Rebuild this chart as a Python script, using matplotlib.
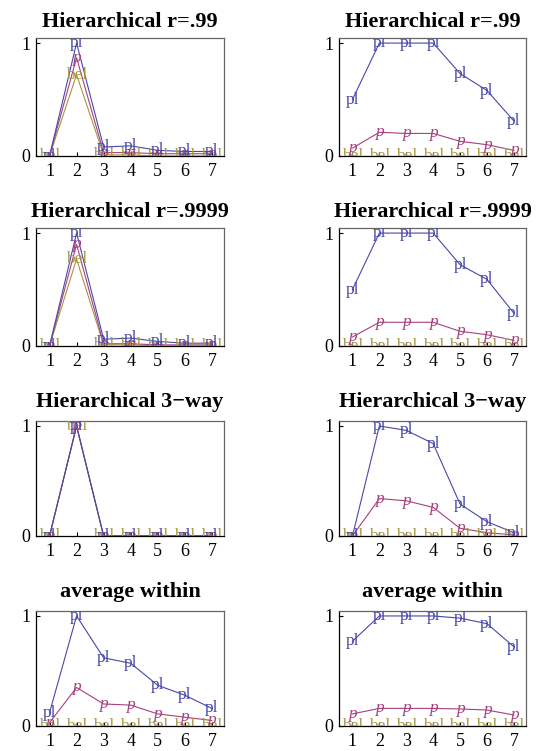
import numpy as np
import matplotlib.pyplot as plt

plt.rcParams['font.family'] = ['Liberation Serif', 'DejaVu Serif']

x = [1, 2, 3, 4, 5, 6, 7]

titles = ['Hierarchical r=.99', 'Hierarchical r=.99',
          'Hierarchical r=.9999', 'Hierarchical r=.9999',
          'Hierarchical 3\u2212way', 'Hierarchical 3\u2212way',
          'average within', 'average within']

pl = [
    [0.0, 1.0, 0.08, 0.09, 0.05, 0.04, 0.04],
    [0.5, 1.0, 1.0, 1.0, 0.73, 0.58, 0.31],
    [0.0, 1.0, 0.06, 0.07, 0.04, 0.025, 0.025],
    [0.5, 1.0, 1.0, 1.0, 0.72, 0.59, 0.29],
    [0.0, 1.0, 0.0, 0.0, 0.0, 0.0, 0.0],
    [0.0, 1.0, 0.96, 0.84, 0.29, 0.13, 0.03],
    [0.12, 1.0, 0.62, 0.57, 0.37, 0.28, 0.16],
    [0.77, 1.0, 1.0, 1.0, 0.98, 0.93, 0.72],
]
p = [
    [0.0, 0.87, 0.03, 0.03, 0.02, 0.02, 0.02],
    [0.07, 0.21, 0.2, 0.2, 0.13, 0.1, 0.05],
    [0.0, 0.9, 0.02, 0.02, 0.01, 0.01, 0.01],
    [0.08, 0.21, 0.21, 0.21, 0.13, 0.1, 0.05],
    [0.0, 1.0, 0.0, 0.0, 0.0, 0.0, 0.0],
    [0.0, 0.34, 0.32, 0.26, 0.07, 0.03, 0.01],
    [0.03, 0.35, 0.2, 0.19, 0.11, 0.08, 0.05],
    [0.11, 0.16, 0.16, 0.16, 0.155, 0.145, 0.1],
]
bel = [
    [0.0, 0.72, 0.01, 0.01, 0.0, 0.0, 0.0],
    [0.0, 0.0, 0.0, 0.0, 0.0, 0.0, 0.0],
    [0.0, 0.77, 0.01, 0.01, 0.0, 0.0, 0.0],
    [0.0, 0.0, 0.0, 0.0, 0.0, 0.0, 0.0],
    [0.0, 1.0, 0.0, 0.0, 0.0, 0.0, 0.0],
    [0.0, 0.0, 0.0, 0.0, 0.0, 0.0, 0.0],
    [0.0, 0.0, 0.0, 0.0, 0.0, 0.0, 0.0],
    [0.0, 0.0, 0.0, 0.0, 0.0, 0.0, 0.0],
]

c_pl = '#4848aa'
c_p = '#a8407e'
c_bel = '#a8963e'

# axes boxes in pixels: (left, right), (top, bottom)
W, H = 540, 751
cols = [(36, 224), (339, 526)]
rows = [(38, 156), (228, 346), (421, 536), (611, 726)]

fig = plt.figure(figsize=(W / 100, H / 100), dpi=100)

for i in range(8):
    l, r = cols[i % 2]
    t, b = rows[i // 2]
    ax = fig.add_axes([l / W, 1 - b / H, (r - l) / W, (b - t) / H])
    series = [(bel[i], 'bel', c_bel, 'normal'),
              (p[i], 'p', c_p, 'italic'),
              (pl[i], 'pl', c_pl, 'normal')]
    for vals, lab, col, sty in series:
        ax.plot(x, vals, color=col, lw=0.8, clip_on=True)
        for xi, yi in zip(x, vals):
            ax.text(xi, yi, lab, color=col, fontsize=12.5, style=sty,
                    ha='center', va='center', clip_on=True)
    ax.set_xlim(0.5, 7.45)
    ax.set_ylim(0, 1.045)
    ax.set_xticks(x)
    ax.set_yticks([0, 1])
    ax.set_yticklabels(['0', '1'])
    ax.tick_params(direction='in', length=3, width=0.8, labelsize=13,
                   top=False, right=False)
    ax.tick_params(axis='x', pad=5)
    ax.tick_params(axis='y', pad=4)
    for s in ['top', 'right']:
        ax.spines[s].set_color('#666666')
    for s in ax.spines.values():
        s.set_linewidth(0.9)
    ax.set_title(titles[i], fontsize=16, fontweight='bold',
                 pad=8 if i < 4 else 10)

fig.savefig('out.png', dpi=100)
